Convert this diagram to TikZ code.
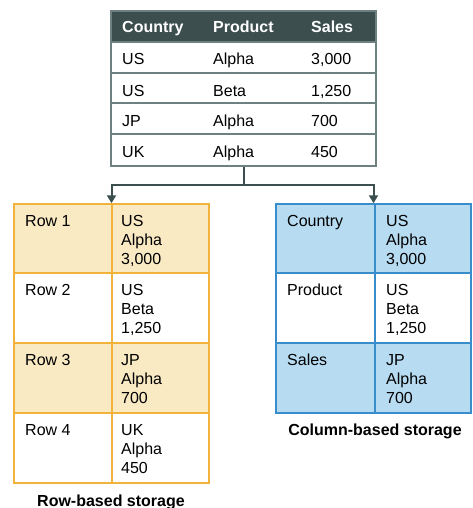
\documentclass[tikz,border=0pt]{standalone}
\usepackage{fontspec}
\setmainfont{Liberation Sans}
\usetikzlibrary{arrows.meta}
\definecolor{hdr}{HTML}{3C4E4E}
\definecolor{tgray}{HTML}{6F8080}
\definecolor{yfill}{HTML}{F9EAC3}
\definecolor{yline}{HTML}{F2B33D}
\definecolor{bfill}{HTML}{B7DCF2}
\definecolor{bline}{HTML}{3A8DCB}
\begin{document}
\begin{tikzpicture}[x=1pt,y=-1pt,
  txt/.style={anchor=base west, inner sep=0pt, align=left, font=\fontsize{16}{19}\selectfont},
  htxt/.style={anchor=base west, inner sep=0pt, text=white, font=\fontsize{16}{19}\selectfont\bfseries},
  ttl/.style={anchor=base, inner sep=0pt, font=\fontsize{16}{19}\selectfont\bfseries},
  tabbox/.style={inner sep=0pt, line width=1.5pt},
  conn/.style={draw=hdr, line width=2pt},
  tip/.style={-{Triangle[length=8pt,width=9pt]}}]
\useasboundingbox (0,0) rectangle (472,508);
% ---------- top table ----------
\fill[hdr] (111,11) rectangle (376,42);
\draw[tgray, line width=1.5pt] (111,42) -- (376,42) (111,73) -- (376,73) (111,103) -- (376,103) (111,134) -- (376,134);
\node[tabbox, draw=tgray, minimum width=265pt, minimum height=155pt] (toptab) at (243.5,88.5) {};
\node[htxt] (h1) at (122,33) {Country};
\node[htxt] (h2) at (213,33) {Product};
\node[htxt] (h3) at (311,33) {Sales};
\node[txt] (a1) at (122,65) {US};
\node[txt] (a2) at (213,65) {Alpha};
\node[txt] (a3) at (311,65) {3,000};
\node[txt] (b1) at (122,96) {US};
\node[txt] (b2) at (213,96) {Beta};
\node[txt] (b3) at (311,96) {1,250};
\node[txt] (c1) at (122,126) {JP};
\node[txt] (c2) at (213,126) {Alpha};
\node[txt] (c3) at (311,126) {700};
\node[txt] (d1) at (122,157) {UK};
\node[txt] (d2) at (213,157) {Alpha};
\node[txt] (d3) at (311,157) {450};
% ---------- row-based table ----------
\fill[yfill] (14,204) rectangle (209,273) (14,343) rectangle (209,413);
\draw[yline, line width=1.5pt] (112,204) -- (112,483) (14,273) -- (209,273) (14,343) -- (209,343) (14,413) -- (209,413);
\node[tabbox, draw=yline, minimum width=195pt, minimum height=279pt] (rowtab) at (111.5,343.5) {};
\node[txt] (r1) at (25,226) {Row 1};
\node[txt] (r2) at (25,295) {Row 2};
\node[txt] (r3) at (25,365) {Row 3};
\node[txt] (r4) at (25,435) {Row 4};
% multi-line nodes: base anchor is the last line's baseline
\node[txt] (rv1) at (121,264) {US\\Alpha\\3,000};
\node[txt] (rv2) at (121,333) {US\\Beta\\1,250};
\node[txt] (rv3) at (121,403) {JP\\Alpha\\700};
\node[txt] (rv4) at (121,473) {UK\\Alpha\\450};
\node[ttl] (rtitle) at (111,506) {Row-based storage};
% ---------- column-based table ----------
\fill[bfill] (276,204) rectangle (471,273) (276,343) rectangle (471,413);
\draw[bline, line width=1.5pt] (375,204) -- (375,413) (276,273) -- (471,273) (276,343) -- (471,343);
\node[tabbox, draw=bline, minimum width=195pt, minimum height=209pt] (coltab) at (373.5,308.5) {};
\node[txt] (k1) at (287,226) {Country};
\node[txt] (k2) at (287,295) {Product};
\node[txt] (k3) at (287,365) {Sales};
\node[txt] (kv1) at (386,264) {US\\Alpha\\3,000};
\node[txt] (kv2) at (386,333) {US\\Beta\\1,250};
\node[txt] (kv3) at (386,403) {JP\\Alpha\\700};
\node[ttl] (ctitle) at (375,435) {Column-based storage};
% ---------- connectors ----------
\coordinate (j) at (243.5,185);
\draw[conn] (toptab.south) -- (j);
\draw[conn, tip] (j) -| (rowtab.north);
\draw[conn, tip] (j) -| (coltab.north);
\end{tikzpicture}
\end{document}
